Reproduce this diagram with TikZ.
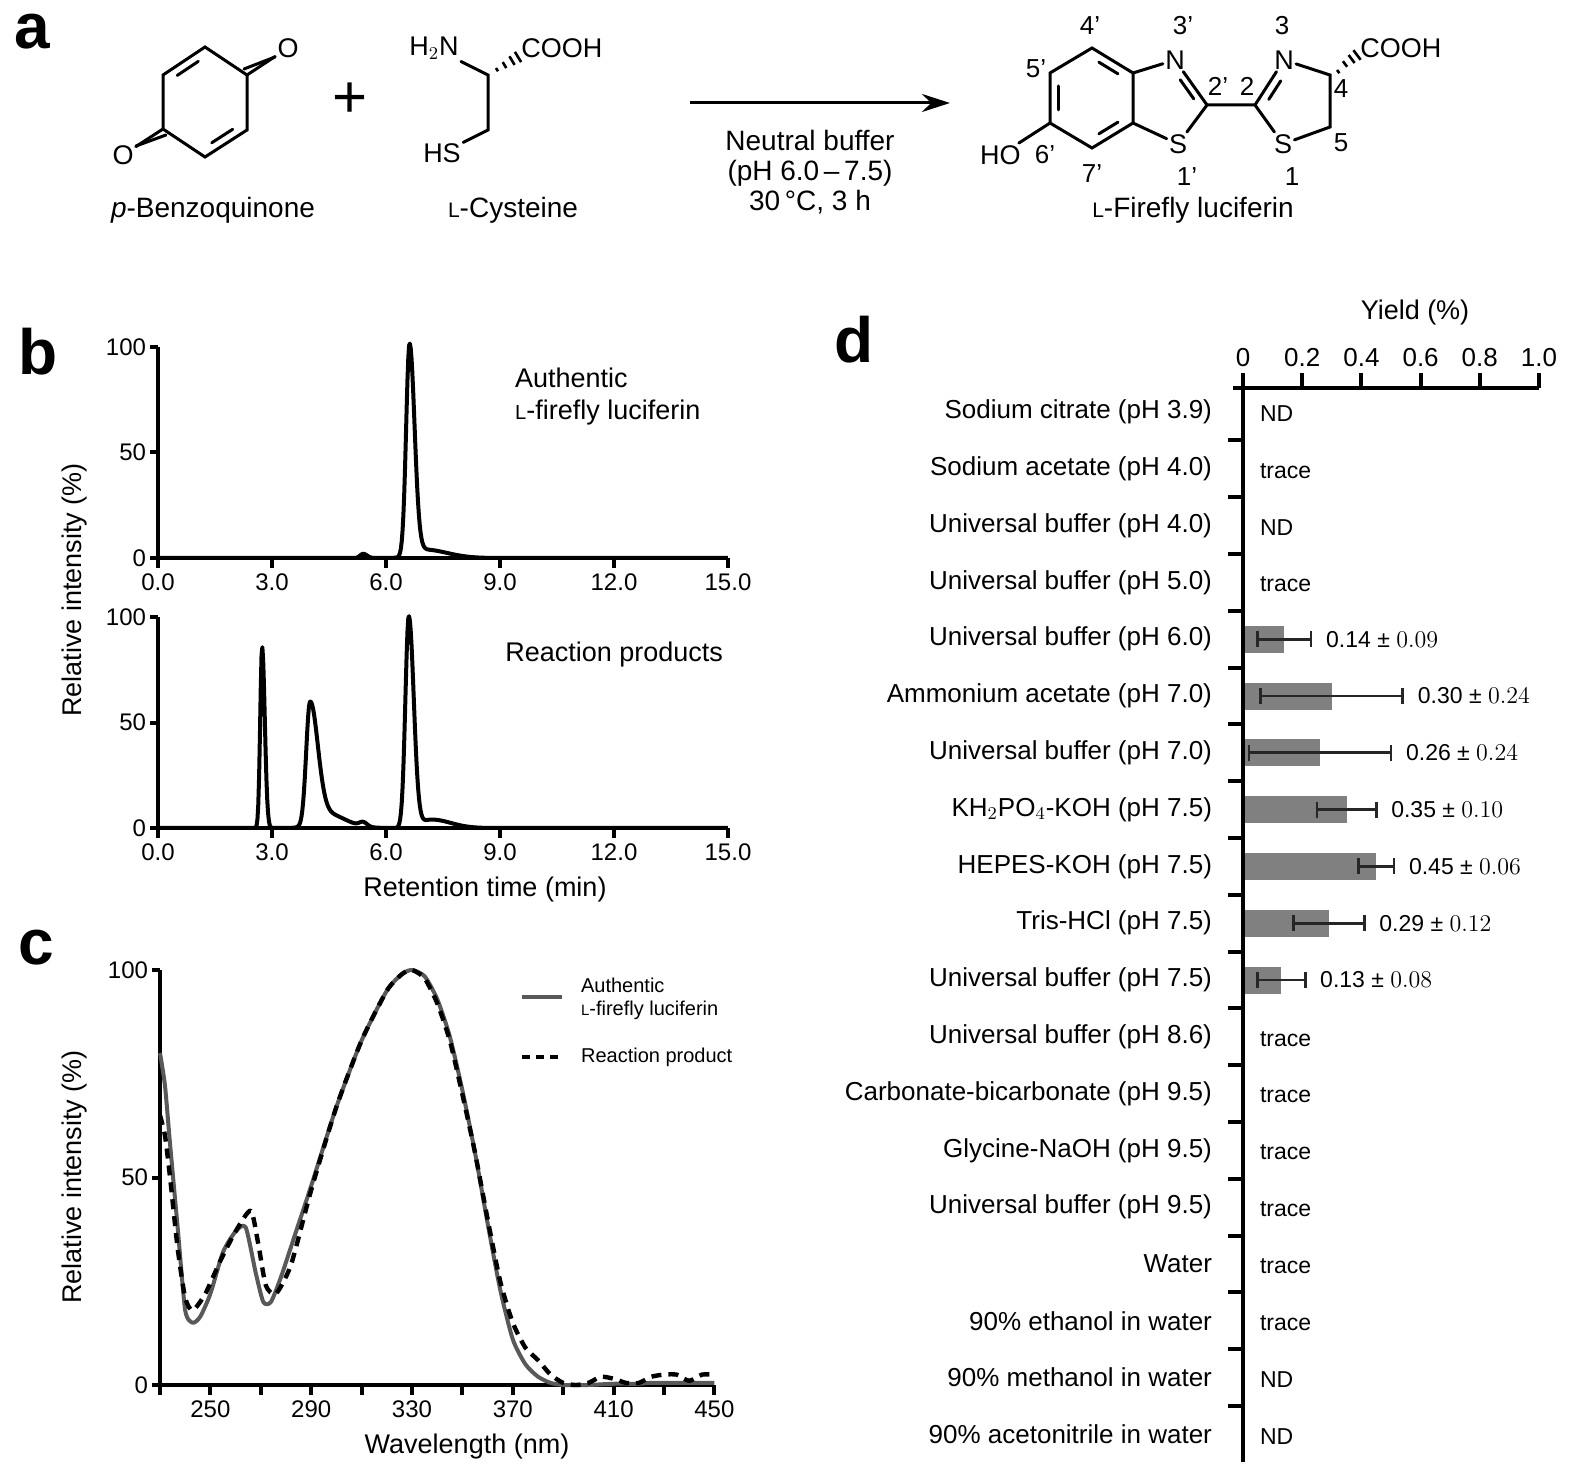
\documentclass[tikz,border=0pt]{standalone}
\usepackage{fontspec}
\setmainfont{Liberation Sans}
\usetikzlibrary{calc,arrows.meta}
\newcommand{\smL}{{\fontsize{0.75em}{1em}\selectfont L}}
\begin{document}
\begin{tikzpicture}[x=0.5pt,y=-0.5pt,
  declare function={pkd(\d)=exp(-0.5*\d*\d);
    pk(\t,\m,\a,\b)=pkd(max(-8,min(8,(\t-\m)/(((\t<\m)?\a:\b)))));},
  bond/.style={line width=1.5pt,line cap=round},
  atom/.style={inner sep=1pt,font=\fontsize{13.5}{15}\selectfont},
  num/.style={font=\fontsize{13}{15}\selectfont},
  chemlab/.style={font=\fontsize{14}{16}\selectfont},
  panel/.style={font=\fontsize{32}{34}\selectfont\bfseries},
  ax/.style={line width=2pt},
  tick/.style={font=\fontsize{12}{14}\selectfont},
  lab/.style={font=\fontsize{13.5}{16}\selectfont},
  dlab/.style={font=\fontsize{13}{15}\selectfont,anchor=east},
  val/.style={font=\fontsize{11.5}{13}\selectfont,anchor=west},
  trc/.style={font=\fontsize{11.5}{13}\selectfont,anchor=west}]
\useasboundingbox (0,0) rectangle (1575,1481);
% panel letters
\node[panel] (pa) at (32,32) {a};
\node[panel] (pb) at (38,352) {b};
\node[panel] (pc) at (36,948) {c};
\node[panel] (pd) at (854,340) {d};
% ---------- benzoquinone
\coordinate (q1) at (205,47); \coordinate (q2) at (247,75); \coordinate (q3) at (247,130);
\coordinate (q4) at (205,157); \coordinate (q5) at (163,129); \coordinate (q6) at (163,75);
\coordinate (qc) at (205,102);
\node[atom] (O1) at (288,48) {O};
\node[atom] (O2) at (123,155) {O};
\draw[bond] (q1)--(q2)--(q3)--(q4)--(q5)--(q6)--cycle;
\draw[bond,shorten <=4pt,shorten >=4pt] ($(q6)!.18!(qc)$)--($(q1)!.18!(qc)$);
\draw[bond,shorten <=4pt,shorten >=4pt] ($(q3)!.18!(qc)$)--($(q4)!.18!(qc)$);
\draw[bond] (q2)--(O1); \draw[bond] ($(q2)+(-3,-6)$)--($(O1.south west)+(0,-3)$);
\draw[bond] (q5)--(O2); \draw[bond] ($(q5)+(3,6)$)--($(O2.north east)+(0,3)$);
\node[chemlab] (bqn) at (213,210) {\textit{p}-Benzoquinone};
\node[font=\fontsize{30}{30}\selectfont] (plus) at (350,100) {+};
% ---------- cysteine
\coordinate (ca) at (488,75); \coordinate (cb) at (488,130); \coordinate (ch) at (518,57);
\node[atom] (NH2) at (434,48) {H$_2$N};
\node[atom,anchor=west] (COOH1) at (519,48) {COOH};
\node[atom] (HS) at (442,153) {HS};
\draw[bond] (NH2)--(ca)--(cb)--(HS);
\draw[line width=1.3pt] (496,68)--(498,71.3) (502.7,62.1)--(506.3,68.1) (509.4,56.3)--(514.6,64.9) (514.9,51.9)--(521.1,62.1);
\node[chemlab] (cysl) at (513,210) {\smL-Cysteine};
% ---------- arrow
\coordinate (ar1) at (690,103); \coordinate (ar2) at (950,103);
\draw[line width=1.5pt,-{Stealth[length=14pt,width=9pt]}] (ar1)--(ar2);
\node[chemlab,align=center] (cond) at (810,172) {Neutral buffer\\[-1pt](pH 6.0\,–\,7.5)\\[-1pt]30\,°C, 3 h};
% ---------- luciferin
\coordinate (b4) at (1092,48); \coordinate (b5) at (1050,73); \coordinate (b6) at (1050,123);
\coordinate (b7) at (1092,148); \coordinate (b7a) at (1133,123); \coordinate (b3a) at (1133,73);
\coordinate (bc) at (1092,98);
\coordinate (c2p) at (1207,105); \coordinate (c2) at (1255,105);
\coordinate (c4) at (1330,75); \coordinate (c5) at (1330,127);
\coordinate (tc1) at (1168,100); \coordinate (tc2) at (1297,103);
\node[atom] (N3p) at (1175,60) {N};
\node[atom] (S1p) at (1178,144) {S};
\node[atom] (N3) at (1284,60) {N};
\node[atom] (S1) at (1283,144) {S};
\node[atom,anchor=east] (HO) at (1023,155) {HO};
\node[atom,anchor=west] (COOH2) at (1358,48) {COOH};
\draw[bond] (b4)--(b5)--(b6)--(b7)--(b7a)--(b3a)--cycle;
\draw[bond,shorten <=4pt,shorten >=4pt] ($(b4)!.2!(bc)$)--($(b3a)!.2!(bc)$);
\draw[bond,shorten <=4pt,shorten >=4pt] ($(b5)!.2!(bc)$)--($(b6)!.2!(bc)$);
\draw[bond,shorten <=4pt,shorten >=4pt] ($(b7)!.2!(bc)$)--($(b7a)!.2!(bc)$);
\draw[bond] (b3a)--(N3p)--(c2p)--(S1p)--(b7a);
\draw[bond,shorten <=6pt,shorten >=3pt] ($(N3p)!.25!(tc1)$)--($(c2p)!.25!(tc1)$);
\draw[bond] (c2p)--(c2)--(N3)--(c4)--(c5)--(S1)--(c2);
\draw[bond,shorten <=6pt,shorten >=3pt] ($(N3)!.25!(tc2)$)--($(c2)!.25!(tc2)$);
\draw[bond] (b6)--(HO);
\draw[line width=1.3pt] (1337,70)--(1339.4,73.2) (1342.9,61.2)--(1347.1,66.8) (1348.6,55)--(1354.6,63) (1353.4,50.2)--(1360.6,59.8);
\node[num] (l4p) at (1090,26) {4’};
\node[num] (l3p) at (1183,26) {3’};
\node[num] (l3) at (1282,26) {3};
\node[num] (l5p) at (1036,69) {5’};
\node[num] (l2p) at (1218,86) {2’};
\node[num] (l2) at (1247,86) {2};
\node[num] (l4) at (1341,89) {4};
\node[num] (l5) at (1341,143) {5};
\node[num] (l6p) at (1045,155) {6’};
\node[num] (l7p) at (1092,174) {7’};
\node[num] (l1p) at (1187,177) {1’};
\node[num] (l1) at (1292,177) {1};
\node[chemlab] (lucl) at (1193,210) {\smL-Firefly luciferin};
% ---------- panel b
\foreach \yz/\nm in {558/top,828/bot}{
  \draw[ax] (158,\yz-211)--(158,\yz)--(728,\yz);
  \foreach \v in {0,50,100} \draw[ax] (158,\yz-2.11*\v)--(150,\yz-2.11*\v) node[tick,anchor=east,inner sep=1pt] {\v};
  \foreach \t/\tl in {0/0.0,3/3.0,6/6.0,9/9.0,12/12.0,15/15.0} \draw[ax] (158+38*\t,\yz)--(158+38*\t,\yz+10) node[tick,anchor=north,inner sep=2pt] {\tl};
}
\draw[line width=2pt,line join=round] plot[domain=0:15,samples=700] ({158+38*\x},{558-2.11*(100*pk(\x,6.62,0.09,0.13)+4*pk(\x,7.0,0.3,0.6)+2*pk(\x,5.4,0.08,0.1))});
\draw[line width=2pt,line join=round] plot[domain=0:15,samples=700] ({158+38*\x},{828-2.11*(86*pk(\x,2.74,0.05,0.07)+57*pk(\x,4.0,0.1,0.2)+7*pk(\x,4.4,0.3,0.5)+100*pk(\x,6.6,0.09,0.13)+4*pk(\x,7.2,0.3,0.5)+2*pk(\x,5.4,0.1,0.1))});
\node[lab,anchor=west] (auth1) at (508,378) {Authentic};
\node[lab,anchor=west] (auth2) at (508,413) {\smL-firefly luciferin};
\node[lab,anchor=east] (rp) at (730,655) {Reaction products};
\node[lab] (rt) at (485,890) {Retention time (min)};
\node[lab,rotate=90] (riB) at (75,590) {Relative intensity (\%)};
% ---------- panel c
\draw[ax] (160,970)--(160,1385)--(714,1385);
\foreach \v/\yy in {0/1385,50/1177.5,100/970} \draw[ax] (160,\yy)--(152,\yy) node[tick,anchor=east,inner sep=1pt] {\v};
\foreach \w in {230,250,...,450} \draw[ax] ({160+2.52*(\w-230)},1385)--({160+2.52*(\w-230)},1395);
\foreach \w in {250,290,...,450} \node[tick,anchor=north] at ({160+2.52*(\w-230)},1394) {\w};
\node[lab] (wl) at (467,1447) {Wavelength (nm)};
\node[lab,rotate=90] (riC) at (75,1177) {Relative intensity (\%)};
\begin{scope}[x=1.26pt,y=2.075pt,shift={(-209.8pt,-692.5pt)}]
\draw[color=black!65,line width=2pt,line join=round] plot[smooth,tension=0.4] coordinates {(230,80) (232,72) (234,58) (237,38) (240,18) (243,15) (246,16.5) (250,22) (255,32) (260,37) (264,38) (268,27) (271,20) (274,20) (278,26) (284,37) (290,48) (300,67) (310,83) (320,95) (326,99) (330,100) (335,98.5) (340,93) (345,84) (350,71) (355,56) (360,39) (365,23) (370,11) (375,5) (380,2) (385,0.5) (390,0) (395,0) (400,0) (410,0.3) (420,0.3) (425,0.5) (450,0.5)};
\draw[line width=2.2pt,dash pattern=on 5pt off 3.5pt,line join=round] plot[smooth,tension=0.4] coordinates {(230,65) (232,60) (234,50) (237,33) (240,21) (243,18) (248,22) (254,30) (260,37) (266,42) (269,34) (272,24) (276,22) (282,29) (290,47) (300,67) (310,83) (320,95) (326,99) (330,100) (335,98) (340,92) (345,83) (350,70) (355,56) (360,40) (365,25) (370,15) (375,9) (380,6) (385,2.5) (390,0.5) (395,0) (400,0.5) (405,2) (410,1.5) (415,0.5) (420,0.5) (425,2) (430,2.5) (435,2.5) (440,1) (445,2.5) (450,2.5)};
\end{scope}
\draw[color=black!65,line width=2pt] (522,997)--(562,997);
\draw[line width=2.2pt,dash pattern=on 4pt off 3pt] (522,1057)--(563,1057);
\node[anchor=west,font=\fontsize{10}{12}\selectfont] (lg1) at (574,985) {Authentic};
\node[anchor=west,font=\fontsize{10}{12}\selectfont] (lg2) at (574,1010) {\smL-firefly luciferin};
\node[anchor=west,font=\fontsize{10}{12}\selectfont] (lg3) at (574,1057) {Reaction product};
% ---------- panel d
\draw[ax] (1233,388)--(1539,388);
\draw[ax] (1243,388)--(1243,1462);
\foreach \v/\vl in {0/0,0.2/0.2,0.4/0.4,0.6/0.6,0.8/0.8,1.0/1.0} \draw[ax] ({1243+296*\v},388)--({1243+296*\v},373) node[tick,anchor=south,inner sep=2pt,font=\fontsize{13}{15}\selectfont] {\vl};
\node[lab] (yl) at (1415,313) {Yield (\%)};
\foreach \i in {0,...,17} \draw[ax] (1243,{412+56.8*(\i+0.5)})--(1228,{412+56.8*(\i+0.5)});
\foreach \i/\lab in {0/Sodium citrate (pH 3.9),1/Sodium acetate (pH 4.0),2/Universal buffer (pH 4.0),3/Universal buffer (pH 5.0),4/Universal buffer (pH 6.0),5/Ammonium acetate (pH 7.0),6/Universal buffer (pH 7.0),7/KH$_2$PO$_4$-KOH (pH 7.5),8/HEPES-KOH (pH 7.5),9/Tris-HCl (pH 7.5),10/Universal buffer (pH 7.5),11/Universal buffer (pH 8.6),12/Carbonate-bicarbonate (pH 9.5),13/Glycine-NaOH (pH 9.5),14/Universal buffer (pH 9.5),15/Water,16/90\% ethanol in water,17/90\% methanol in water,18/90\% acetonitrile in water}
  \node[dlab] at (1219,{412+56.8*\i}) {\lab};
\foreach \i/\t in {0/ND,1/trace,2/ND,3/trace,11/trace,12/trace,13/trace,14/trace,15/trace,16/trace,17/ND,18/ND}
  \node[trc] at (1253,{414+56.8*\i}) {\t};
\foreach \i/\m/\s/\vt in {4/0.14/0.09/0.14,5/0.30/0.24/0.30,6/0.26/0.24/0.26,7/0.35/0.10/0.35,8/0.45/0.06/0.45,9/0.29/0.12/0.29,10/0.13/0.08/0.13}{
  \pgfmathsetmacro{\yc}{412+56.8*\i}
  \fill[black!50] (1245,\yc-13.5) rectangle ({1243+296*\m},\yc+13.5);
  \draw[line width=1.4pt,black!85] ({1243+296*(\m-\s)},\yc)--({1243+296*(\m+\s)},\yc)
     ({1243+296*(\m-\s)},\yc-8)--({1243+296*(\m-\s)},\yc+8)
     ({1243+296*(\m+\s)},\yc-8)--({1243+296*(\m+\s)},\yc+8);
  \node[val] at ({1243+296*(\m+\s)+8},\yc) {\vt\ ± \pgfmathprintnumber[fixed,precision=2,zerofill]{\s}};
}
\end{tikzpicture}
\end{document}
